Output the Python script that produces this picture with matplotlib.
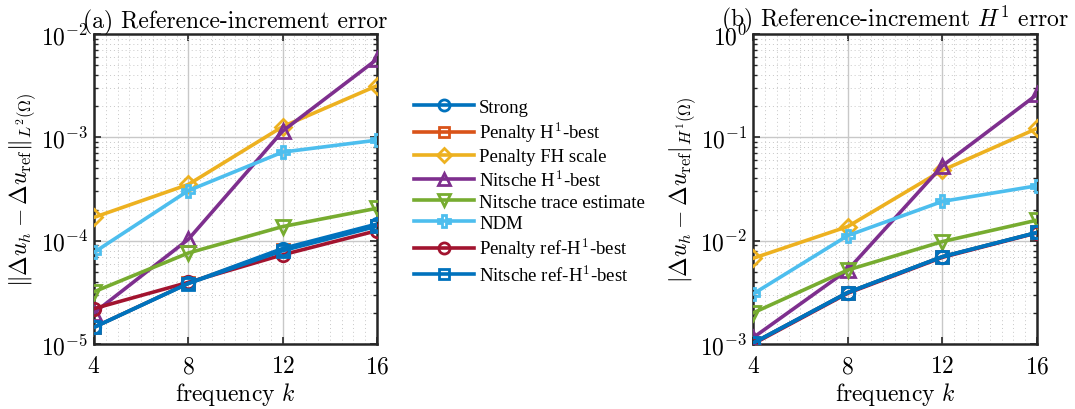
import matplotlib
matplotlib.use("Agg")
import matplotlib.pyplot as plt
from matplotlib.ticker import LogLocator, MultipleLocator, NullFormatter
from matplotlib.lines import Line2D

plt.rcParams["mathtext.fontset"] = "cm"
plt.rcParams["font.family"] = "cmr10"
plt.rcParams["axes.formatter.use_mathtext"] = True

k = [4, 8, 12, 16]

# L2 reference-increment errors
l2_strong = [1.45e-5, 3.87e-5, 8.4e-5, 1.45e-4]
l2_pen_h1 = [1.45e-5, 3.87e-5, 8.2e-5, 1.40e-4]
l2_pen_fh = [1.68e-4, 3.5e-4, 1.27e-3, 3.16e-3]
l2_nit_h1 = [2.0e-5, 1.03e-4, 1.15e-3, 5.7e-3]
l2_nit_tr = [3.2e-5, 7.6e-5, 1.37e-4, 2.06e-4]
l2_ndm = [7.7e-5, 3.05e-4, 7.2e-4, 9.4e-4]
l2_pen_ref = [2.2e-5, 3.95e-5, 7.3e-5, 1.25e-4]
l2_nit_ref = [1.45e-5, 3.85e-5, 8.0e-5, 1.38e-4]

# H1 reference-increment errors
h1_strong = [1.02e-3, 3.15e-3, 7.0e-3, 1.2e-2]
h1_pen_h1 = [1.02e-3, 3.15e-3, 7.0e-3, 1.2e-2]
h1_pen_fh = [6.75e-3, 1.37e-2, 4.8e-2, 0.122]
h1_nit_h1 = [1.15e-3, 5.2e-3, 5.3e-2, 0.26]
h1_nit_tr = [2.0e-3, 5.2e-3, 9.8e-3, 1.58e-2]
h1_ndm = [3.05e-3, 1.12e-2, 2.4e-2, 3.4e-2]
h1_pen_ref = [1.0e-3, 3.1e-3, 6.9e-3, 1.19e-2]
h1_nit_ref = [1.02e-3, 3.15e-3, 7.0e-3, 1.2e-2]

labels = ["Strong", "Penalty H$^1$-best", "Penalty FH scale", "Nitsche H$^1$-best",
          "Nitsche trace estimate", "NDM", "Penalty ref-H$^1$-best", "Nitsche ref-H$^1$-best"]
colors = ["#0072BD", "#D95319", "#EDB120", "#7E2F8E", "#77AC30", "#4DBEEE", "#A2142F", "#0072BD"]
markers = ["o", "s", "D", "^", "v", "P", "o", "s"]
msizes = [9, 8, 8, 10, 10, 9, 9, 8]

l2_series = [l2_strong, l2_pen_h1, l2_pen_fh, l2_nit_h1, l2_nit_tr, l2_ndm, l2_pen_ref, l2_nit_ref]
h1_series = [h1_strong, h1_pen_h1, h1_pen_fh, h1_nit_h1, h1_nit_tr, h1_ndm, h1_pen_ref, h1_nit_ref]
draw_order = [1, 2, 3, 4, 5, 6, 0, 7]

fig = plt.figure(figsize=(10.75, 4.10), dpi=100)
ax1 = fig.add_axes([0.0874, 0.1585, 0.2633, 0.7561])
ax2 = fig.add_axes([0.7005, 0.1585, 0.2642, 0.7561])


def style(ax, ylo, yhi):
    ax.set_yscale("log")
    ax.set_xlim(4, 16)
    ax.set_ylim(ylo, yhi)
    ax.set_xticks(k)
    ax.xaxis.set_minor_locator(MultipleLocator(0.5))
    ax.yaxis.set_major_locator(LogLocator(base=10, numticks=10))
    ax.yaxis.set_minor_locator(LogLocator(base=10, subs=range(2, 10), numticks=20))
    ax.yaxis.set_minor_formatter(NullFormatter())
    ax.grid(True, which="major", color="#c8c8c8", lw=1.0, zorder=0)
    ax.grid(True, which="minor", color="#c8c8c8", lw=0.7, ls=(0, (1, 3)), zorder=0)
    ax.tick_params(which="both", direction="in", top=True, right=True, labelsize=17, color="#262626")
    ax.tick_params(which="major", length=5, width=1.2)
    ax.tick_params(axis="x", which="major", pad=8)
    ax.tick_params(axis="y", which="major", pad=4)
    ax.tick_params(axis="y", which="minor", length=3, width=1.0)
    ax.tick_params(axis="x", which="minor", length=0)
    for sp in ax.spines.values():
        sp.set_linewidth(1.8)
        sp.set_color("#262626")
    ax.set_xlabel("frequency $k$", fontsize=17, labelpad=2)


def draw(ax, series):
    for i in draw_order:
        ax.plot(k, series[i], color=colors[i], marker=markers[i], ms=msizes[i],
                mfc="none", mew=2.0, lw=2.6, zorder=3)


draw(ax1, l2_series)
draw(ax2, h1_series)
style(ax1, 1e-5, 1e-2)
style(ax2, 1e-3, 1e0)

ax1.set_ylabel(r"$\|\Delta u_h-\Delta u_{\rm ref}\|_{L^2(\Omega)}$", fontsize=17, labelpad=2)
ax2.set_ylabel(r"$|\Delta u_h-\Delta u_{\rm ref}|_{H^1(\Omega)}$", fontsize=17, labelpad=2)
ax1.set_title("(a) Reference-increment error", fontsize=17, pad=3)
ax2.set_title("(b) Reference-increment $H^1$ error", fontsize=17, pad=3)

handles = [Line2D([], [], color=colors[i], marker=markers[i], ms=msizes[i] - 1, mfc="none",
                  mew=2.0, lw=2.6) for i in range(len(labels))]
fig.legend(handles, labels, loc="center left", bbox_to_anchor=(0.369, 0.530), frameon=False,
           prop={"family": "Liberation Serif", "size": 13.5}, handlelength=3.2,
           labelspacing=0.2, handletextpad=0.3)

fig.savefig("out.png", dpi=100)
